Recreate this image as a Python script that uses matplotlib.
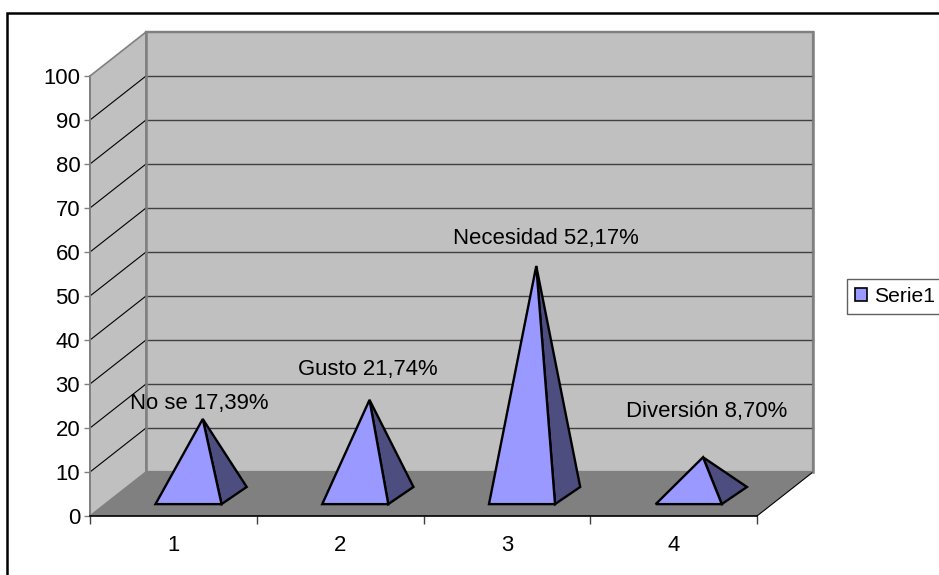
import matplotlib
matplotlib.use("Agg")
import matplotlib.pyplot as plt
from matplotlib.patches import Patch, Polygon, Rectangle
from matplotlib.transforms import IdentityTransform

plt.rcParams['font.family'] = ['Liberation Sans', 'DejaVu Sans']

categories = ['1', '2', '3', '4']
names = ['No se', 'Gusto', 'Necesidad', 'Diversión']
values = [17.39, 21.74, 52.17, 8.70]
y_ticks = list(range(0, 101, 10))
series_name = 'Serie1'

# depth of the 3D box, in axis units
DEPTH_X = 0.336
DEPTH_Y = 10

WALL = '#c0c0c0'
FLOOR = '#808080'
EDGE = '#808080'
FRONT = '#9999ff'
SIDE = '#4d4d80'
FONT_SIZE = 15.9


def project(x, y, d=0.0):
    """Moves a point d of the way back through the box."""
    return (x + d * DEPTH_X, y + d * DEPTH_Y)


def face(ax, points, color, **kw):
    ax.add_patch(Polygon(points, closed=True, facecolor=color, clip_on=False, **kw))


def draw_box(ax):
    face(ax, [project(0, 0, 1), project(4, 0, 1), project(4, 100, 1), project(0, 100, 1)], WALL,
         edgecolor=EDGE, linewidth=1.6, zorder=1)
    face(ax, [project(0, 0), project(0, 0, 1), project(0, 100, 1), project(0, 100)], WALL,
         edgecolor=EDGE, linewidth=1.2, zorder=1)
    face(ax, [project(0, 0), project(4, 0), project(4, 0, 1), project(0, 0, 1)], FLOOR,
         edgecolor='none', zorder=2)

    # right hand edge of the floor
    x0, y0 = project(4, 0)
    x1, y1 = project(4, 0, 1)
    ax.plot([x0, x1], [y0, y1], color='black', lw=0.8, zorder=3, clip_on=False)

    for v in y_ticks[1:]:
        x0, y0 = project(0, v)
        x1, y1 = project(0, v, 1)
        x2, y2 = project(4, v, 1)
        if v < 100:
            ax.plot([x0, x1], [y0, y1], color='black', lw=0.8, zorder=2, clip_on=False)
            ax.plot([x1, x2], [y1, y2], color='#404040', lw=1.0, zorder=2, clip_on=False)
        else:
            ax.plot([x1, x2], [y1, y2], color=EDGE, lw=1.6, zorder=2, clip_on=False)

    # wall corners sit on top of the grid lines
    for x in (0, 4):
        x0, y0 = project(x, 0, 1)
        x1, y1 = project(x, 100, 1)
        ax.plot([x0, x1], [y0, y1], color=EDGE, lw=1.8, zorder=3, clip_on=False)


def draw_pyramid(ax, center, value):
    half = 0.198
    skew = 0.02
    d_front, d_back = 0.27, 0.66
    d_mid = (d_front + d_back) / 2

    front_left = project(center - half, 0, d_front)
    front_right = project(center + half, 0, d_front)
    back_right = project(center + half + skew, 0, d_back)
    apex = project(center + skew, value, d_mid)

    face(ax, [front_right, back_right, apex], SIDE, edgecolor='black', linewidth=1.7,
         joinstyle='miter', zorder=4)
    face(ax, [front_left, front_right, apex], FRONT, edgecolor='black', linewidth=1.7,
         joinstyle='miter', zorder=5)
    return apex


def main():
    fig = plt.figure(figsize=(9.39, 5.75), dpi=100, facecolor='white')

    # outer frame runs off the right and bottom of the image
    fig.add_artist(Rectangle((7, -20), 980, 582, transform=IdentityTransform(),
                             fill=False, edgecolor='black', linewidth=1.8))

    ax = fig.add_axes([90 / 939, 59 / 575, 667 / 939, 440 / 575])
    ax.set_xlim(0, 4)
    ax.set_ylim(0, 100)
    ax.patch.set_visible(False)
    ax.spines['top'].set_visible(False)
    ax.spines['right'].set_visible(False)
    ax.spines['left'].set_color(EDGE)
    ax.spines['left'].set_linewidth(1.4)
    ax.spines['bottom'].set_color('black')
    ax.spines['bottom'].set_linewidth(1.2)
    for s in ax.spines.values():
        s.set_zorder(6)

    ax.set_yticks(y_ticks)
    ax.tick_params(axis='y', length=4, width=1.0, color=EDGE, pad=3, labelsize=FONT_SIZE)
    ax.set_xticks(range(5))
    ax.set_xticklabels([])
    ax.tick_params(axis='x', which='major', length=6, width=1.0, color='#404040')
    ax.set_xticks([i + 0.5 for i in range(4)], minor=True)
    ax.set_xticklabels(categories, minor=True, fontsize=FONT_SIZE)
    ax.tick_params(axis='x', which='minor', length=0, pad=14)

    draw_box(ax)

    # hand placed label offsets from each apex, in points
    label_offsets = [(-2.5, 11.5), (-1.5, 22), (7, 19.5), (2.5, 33)]
    for i, (name, value) in enumerate(zip(names, values)):
        apex = draw_pyramid(ax, i + 0.5, value)
        text = f"{name} {value:.2f}%".replace('.', ',')
        ax.annotate(text, xy=apex, xytext=label_offsets[i], textcoords='offset points',
                    ha='center', va='center', fontsize=FONT_SIZE, color='black',
                    annotation_clip=False, zorder=7)

    # the box runs just past the image edge, the label stays inside
    handle = Patch(facecolor=FRONT, edgecolor='black', linewidth=1.2, label=series_name)
    fig.legend(handles=[handle], loc='upper left', bbox_to_anchor=(847 / 939, 1 - 279 / 575),
               borderaxespad=0, fontsize=15.2, frameon=True, fancybox=False,
               edgecolor='#606060', framealpha=1, handlelength=0.56, handleheight=0.56,
               handletextpad=0.37, borderpad=0.37)

    fig.savefig('out.png', dpi=100)


if __name__ == "__main__":
    main()
